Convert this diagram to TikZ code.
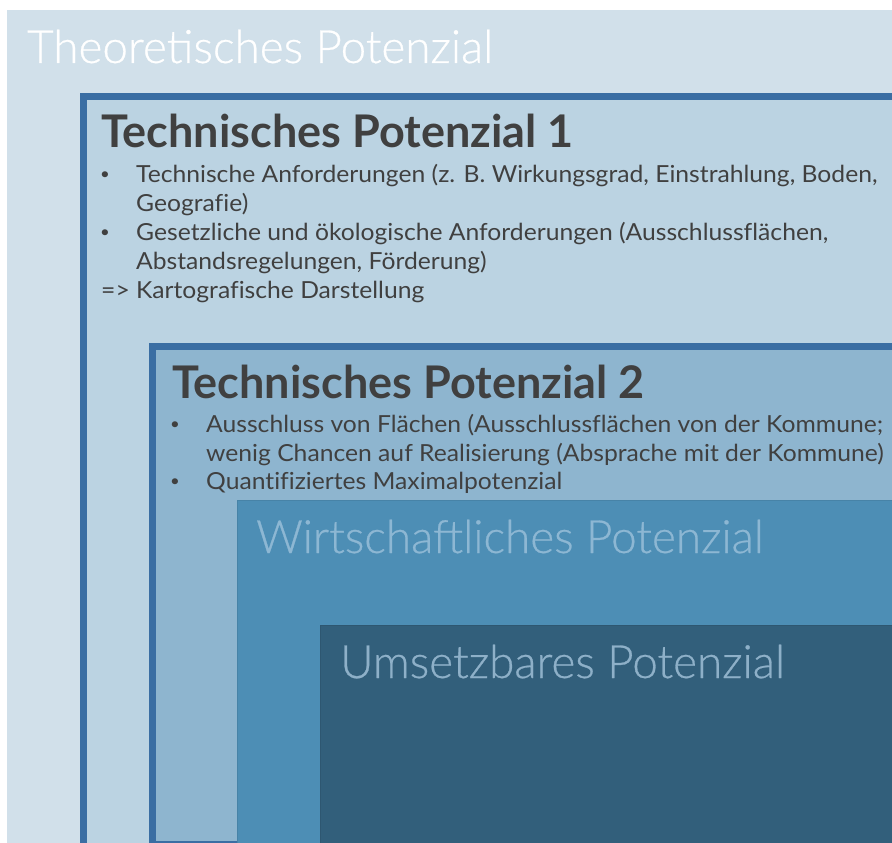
\documentclass[tikz,border=0pt]{standalone}
\usepackage{fontspec}
\setmainfont{Lato}[Ligatures=NoCommon]
\newfontfamily\itemfont{Lato}[Ligatures=NoCommon, FakeStretch=1.05]
\IfFontExistsTF{Lato Light}{\newfontfamily\latolight{Lato Light}[FakeBold=0.6]}{\newfontfamily\latolight{Lato}}
\newfontfamily\latobold{Lato}[UprightFont=* Bold]
\definecolor{cOuter}{HTML}{D1E0EA}
\definecolor{cTPone}{HTML}{BBD3E2}
\definecolor{cTPtwo}{HTML}{8EB5CF}
\definecolor{cWirt}{HTML}{4D8EB5}
\definecolor{cUms}{HTML}{325F7B}
\definecolor{cBorder}{HTML}{3A6EA3}
\definecolor{cDark}{HTML}{404040}
\definecolor{cWirtTxt}{HTML}{8DB7D3}
\definecolor{cUmsTxt}{HTML}{8EB0C8}
\tikzset{
  lighttitle/.style={anchor=base west, inner sep=0pt, font=\latolight\fontsize{45.8}{52}\selectfont},
  boldtitle/.style={anchor=base west, inner sep=0pt, text=cDark, font=\latobold\fontsize{45}{50}\selectfont},
  itemtext/.style={anchor=base west, inner sep=0pt, text=cDark, font=\itemfont\fontsize{23.5}{29}\selectfont},
  bulletmark/.style={anchor=base, inner sep=0pt, text=cDark, font=\itemfont\fontsize{16}{20}\selectfont},
}
\begin{document}
\begin{tikzpicture}[x=1pt,y=-1pt]
\useasboundingbox (0,0) rectangle (892,843);
\clip (0,0) rectangle (892,843);
\fill[white] (0,0) rectangle (892,843);
% boxes
\fill[cOuter] (7,10) rectangle (950,900);
\filldraw[fill=cTPone, draw=cBorder, line width=6.5pt] (83.4,96.6) rectangle (950,900);
\filldraw[fill=cTPtwo, draw=cBorder, line width=6.5pt] (152.6,346.3) rectangle (950,844.5);
\filldraw[fill=cWirt, draw=cWirt!92!black, line width=1pt] (237,500) rectangle (950,900);
\filldraw[fill=cUms, draw=cUms!92!black, line width=1pt] (320.5,625.5) rectangle (950,900);
% titles
\node[lighttitle, text=white] (theo) at (27,63) {Theoretisches Potenzial};
\node[boldtitle] (tp1) at (101,147) {Technisches Potenzial 1};
\node[boldtitle] (tp2) at (172,398) {Technisches Potenzial 2};
\node[lighttitle, text=cWirtTxt] (wirt) at (256,553) {Wirtschaftliches Potenzial};
\node[lighttitle, text=cUmsTxt] (ums) at (340,678) {Umsetzbares Potenzial};
% TP1 items
\node[bulletmark] (b1) at (105,179) {•};
\node[itemtext] (i1a) at (136,182) {Technische Anforderungen (z. B. Wirkungsgrad, Einstrahlung, Boden,};
\node[itemtext] (i1b) at (136,211.5) {Geografie)};
\node[bulletmark] (b2) at (105,237.5) {•};
\node[itemtext] (i2a) at (136,240.5) {Gesetzliche und ökologische Anforderungen (Ausschlussflächen,};
\node[itemtext] (i2b) at (136,269.5) {Abstandsregelungen, Förderung)};
\node[itemtext] (i3) at (101,298.5) {=> Kartografische Darstellung};
% TP2 items
\node[bulletmark] (b3) at (175,429) {•};
\node[itemtext] (i4a) at (206,432) {Ausschluss von Flächen (Ausschlussflächen von der Kommune;};
\node[itemtext] (i4b) at (206,461.5) {wenig Chancen auf Realisierung (Absprache mit der Kommune)};
\node[bulletmark] (b4) at (175,486) {•};
\node[itemtext] (i5) at (206,489) {Quantifiziertes Maximalpotenzial};
\end{tikzpicture}
\end{document}
